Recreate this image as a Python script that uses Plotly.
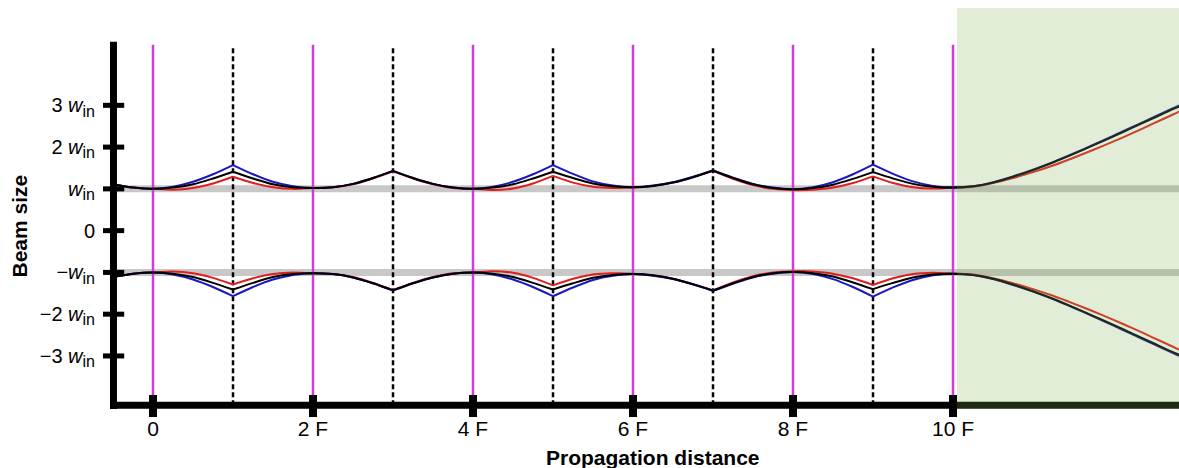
import plotly.graph_objects as go

# sample positions along propagation (units of F)
z = [-0.5, -0.25, 0, 0.25, 0.5, 0.75, 1, 1.25, 1.5, 1.75, 2, 2.25, 2.5, 2.75, 3, 3.25, 3.5, 3.75,
     4, 4.25, 4.5, 4.75, 5, 5.25, 5.5, 5.75, 6, 6.25, 6.5, 6.75, 7, 7.25, 7.5, 7.75, 8, 8.25, 8.5,
     8.75, 9, 9.25, 9.5, 9.75, 10, 10.25, 10.5, 10.75, 11, 11.25, 11.5, 11.75, 12, 12.25, 12.5,
     12.75, 12.825]

# beam half-width (units of w_in), upper envelope; lower envelope is the mirror
w_black = [1.11, 1.03, 1.00, 1.03, 1.11, 1.25, 1.41, 1.25, 1.11, 1.04, 1.02, 1.04, 1.12, 1.26, 1.43,
           1.26, 1.12, 1.03, 1.00, 1.03, 1.11, 1.25, 1.41, 1.26, 1.13, 1.06, 1.04, 1.07, 1.15, 1.28,
           1.44, 1.26, 1.11, 1.02, 0.99, 1.02, 1.10, 1.24, 1.40, 1.25, 1.12, 1.05, 1.03, 1.06, 1.15,
           1.29, 1.45, 1.63, 1.83, 2.04, 2.25, 2.47, 2.69, 2.91, 2.97]
w_blue = [1.11, 1.03, 1.00, 1.05, 1.17, 1.35, 1.57, 1.35, 1.17, 1.06, 1.02, 1.04, 1.12, 1.26, 1.43,
          1.26, 1.12, 1.03, 1.00, 1.05, 1.17, 1.35, 1.57, 1.36, 1.18, 1.08, 1.04, 1.08, 1.16, 1.29,
          1.44, 1.27, 1.12, 1.03, 0.99, 1.04, 1.16, 1.35, 1.58, 1.36, 1.18, 1.07, 1.03, 1.06, 1.16,
          1.30, 1.46, 1.64, 1.84, 2.05, 2.27, 2.49, 2.71, 2.93, 3.00]
w_red = [1.11, 1.03, 1.00, 0.98, 1.02, 1.13, 1.29, 1.14, 1.04, 1.00, 1.02, 1.04, 1.11, 1.25, 1.42,
         1.25, 1.11, 1.02, 1.00, 0.97, 1.01, 1.13, 1.31, 1.15, 1.05, 1.02, 1.03, 1.07, 1.15, 1.28,
         1.43, 1.24, 1.09, 1.00, 0.97, 0.98, 1.03, 1.14, 1.30, 1.14, 1.04, 1.01, 1.03, 1.05, 1.14,
         1.26, 1.40, 1.56, 1.74, 1.93, 2.13, 2.34, 2.56, 2.78, 2.85]

waist_planes = [0, 2, 4, 6, 8, 10]          # magenta lines
lens_planes = [1, 3, 5, 7, 9]               # dashed lines
x_tickvals = [0, 2, 4, 6, 8, 10]
x_ticktext = ["0", "2 F", "4 F", "6 F", "8 F", "10 F"]
y_tickvals = [3, 2, 1, 0, -1, -2, -3]
SUB = '<sub><span style="font-size:16px">in</span></sub>'
y_ticktext = ["3 <i>w</i>" + SUB, "2 <i>w</i>" + SUB, "<i>w</i>" + SUB, "0",
              "\u2212<i>w</i>" + SUB, "\u22122 <i>w</i>" + SUB, "\u22123 <i>w</i>" + SUB]

X0, X1 = -0.65, 12.825
Y0, Y1 = -4.27, 5.33
PLOT_H = 401.0
FONT = "Liberation Sans, Arial, sans-serif"


def py_to_paper(py):
    # figure pixel row -> paper coordinate (plot area spans rows 8..409)
    return (8 + PLOT_H - py) / PLOT_H


fig = go.Figure()

# segments split at lens planes so that spline smoothing keeps the cusps
breaks = [z[0]] + lens_planes + [z[-1]]
series = [(w_red, "rgb(225,30,30)"), (w_blue, "rgb(25,25,190)"), (w_black, "black")]
for vals, col in series:
    for sign in (1, -1):
        for a, b in zip(breaks[:-1], breaks[1:]):
            xs = [zz for zz in z if a <= zz <= b]
            ys = [sign * v for zz, v in zip(z, vals) if a <= zz <= b]
            fig.add_trace(go.Scatter(x=xs, y=ys, mode="lines",
                                     line=dict(color=col, width=2, shape="spline", smoothing=0.8),
                                     showlegend=False, hoverinfo="skip"))

shapes = []
# gray reference bands at +-w_in
for yv in (1, -1):
    shapes.append(dict(type="line", xref="x", yref="y", x0=-0.49, x1=X1, y0=yv, y1=yv,
                       line=dict(color="rgb(200,200,200)", width=7), layer="below"))
# magenta waist planes
for xv in waist_planes:
    shapes.append(dict(type="line", xref="x", yref="y", x0=xv, x1=xv, y0=-4.18, y1=4.45,
                       line=dict(color="rgb(210,60,210)", width=2.5), layer="below"))
# dashed lens planes
for xv in lens_planes:
    shapes.append(dict(type="line", xref="x", yref="y", x0=xv, x1=xv, y0=-4.18, y1=4.40,
                       line=dict(color="black", width=2.5, dash="5px,3px"), layer="below"))
# axes lines
shapes.append(dict(type="line", xref="x", yref="y", x0=-0.537, x1=X1, y0=-4.18, y1=-4.18,
                   line=dict(color="black", width=7), layer="above"))
shapes.append(dict(type="line", xref="x", yref="y", x0=-0.494, x1=-0.494, y0=-4.27, y1=4.52,
                   line=dict(color="black", width=7), layer="above"))
# x ticks (extend below the axis line)
for xv in x_tickvals:
    shapes.append(dict(type="rect", xref="x", yref="paper", x0=xv - 0.05, x1=xv + 0.05,
                       y0=py_to_paper(417), y1=py_to_paper(395), fillcolor="black",
                       line=dict(width=0), layer="above"))
# y ticks
for yv in y_tickvals:
    shapes.append(dict(type="rect", xref="x", yref="y", x0=-0.625, x1=-0.36,
                       y0=yv - 0.06, y1=yv + 0.06, fillcolor="black", line=dict(width=0),
                       layer="above"))
# green far-field region (translucent overlay)
shapes.append(dict(type="rect", xref="x", yref="y", x0=10.05, x1=X1, y0=Y0, y1=Y1,
                   fillcolor="rgba(130,178,87,0.23)", line=dict(width=0), layer="above"))

fig.update_layout(
    width=1179, height=468,
    margin=dict(l=101, r=0, t=8, b=468 - 8 - PLOT_H),
    paper_bgcolor="white", plot_bgcolor="white",
    shapes=shapes,
    font=dict(family=FONT, color="black"),
    xaxis=dict(range=[X0, X1], showgrid=False, zeroline=False, showline=False,
               tickvals=x_tickvals, ticktext=x_ticktext, ticks="outside", ticklen=1,
               tickcolor="rgba(0,0,0,0)", tickfont=dict(size=21, family=FONT, color="black")),
    yaxis=dict(range=[Y0, Y1], showgrid=False, zeroline=False, showline=False,
               tickvals=y_tickvals, ticktext=y_ticktext, ticks="outside", ticklen=1,
               tickcolor="rgba(0,0,0,0)", tickfont=dict(size=20, family=FONT, color="black")),
    annotations=[
        dict(text="<b>Propagation distance</b>", xref="x", yref="paper", x=6.25, y=0,
             yshift=-48, showarrow=False, xanchor="center", yanchor="middle",
             font=dict(size=21, family=FONT, color="black")),
        dict(text="<b>Beam size</b>", xref="paper", yref="y", x=0, y=0.11, xshift=-81.5,
             showarrow=False, textangle=-90, xanchor="center", yanchor="middle",
             font=dict(size=21, family=FONT, color="black")),
    ],
)

fig.write_html("out.html", config={"displayModeBar": False},
               post_script="document.body.style.margin='0';")
